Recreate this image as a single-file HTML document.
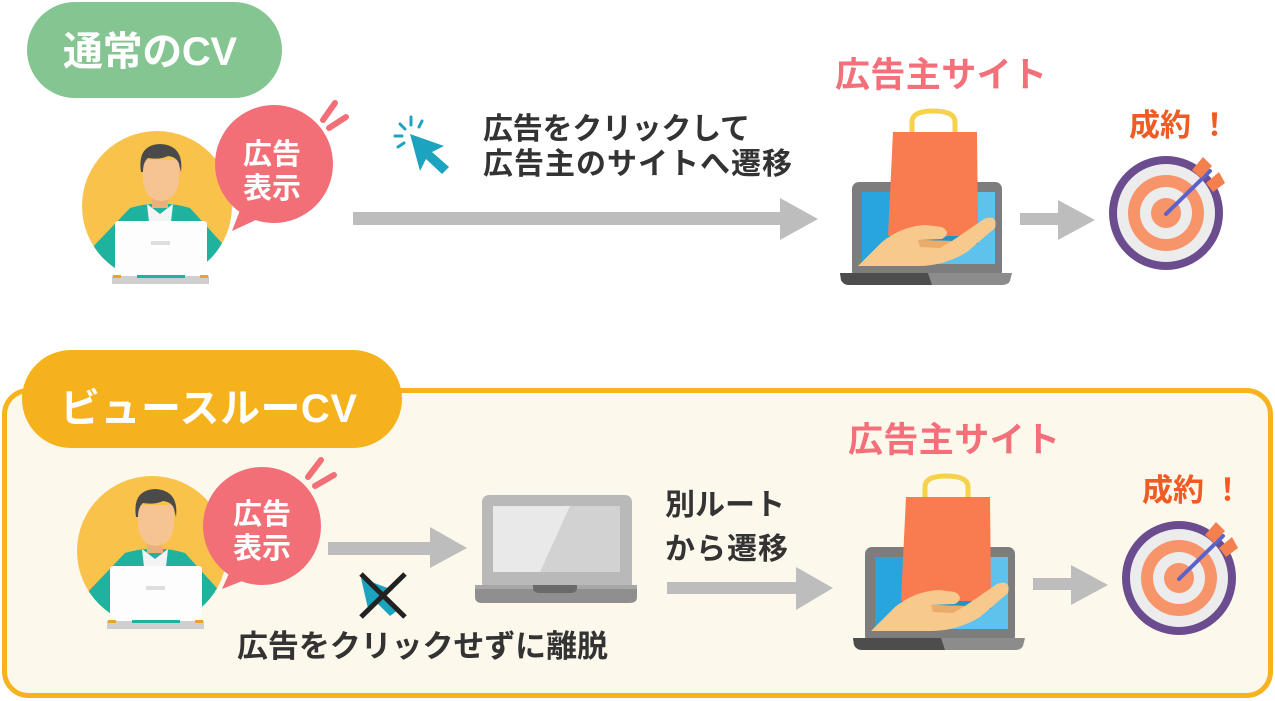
<!DOCTYPE html>
<html>
<head>
<meta charset="utf-8">
<style>
html,body{margin:0;padding:0;background:#fff;}
svg{display:block;}
text{font-family:"Liberation Sans","Noto Sans CJK JP",sans-serif;font-weight:bold;}
</style>
</head>
<body>
<svg width="1275" height="701" viewBox="0 0 1275 701" xmlns="http://www.w3.org/2000/svg">
<defs>
  <clipPath id="pc" clipPathUnits="userSpaceOnUse"><circle cx="157" cy="206" r="75"/></clipPath>
  <g id="person">
    <circle cx="157" cy="206" r="75" fill="#f8c24b"/>
    <g clip-path="url(#pc)">
      <path d="M130 208 Q160 199 190 208 L230 252 L224 295 L92 295 L88 252 Z" fill="#1fb39f"/>
    </g>
    <rect x="152" y="190" width="16" height="18" fill="#eab07c"/>
    <path d="M147 204 L160 214 L173 204 L171 222 L160 232 L149 222 Z" fill="#f4f4f4"/>
    <path d="M143 160 L143 180 Q145 200 161 201 Q177 200 179 180 L179 160 Z" fill="#f6c493"/>
    <path d="M141 172 Q137 145 160 144 Q184 145 181 172 L179 164 Q177 157 168 156 Q160 160 148 158 Q143 162 143 172 Z" fill="#4a4a4a"/>
    <rect x="115" y="221" width="92" height="56" rx="3" fill="#fdfdfd"/>
    <rect x="151" y="241" width="19" height="4" fill="#dedede"/>
    <rect x="112" y="276" width="97" height="8" fill="#cfcfcf"/>
    <rect x="137" y="275" width="48" height="3" fill="#1fb39f"/>
    <rect x="113" y="275" width="8" height="3" fill="#f0a030"/>
    <rect x="200" y="275" width="8" height="3" fill="#f0a030"/>
  </g>
  <g id="site">
    <!-- laptop -->
    <rect x="852" y="182" width="150" height="96" rx="7" fill="#7d7d7d"/>
    <rect x="862" y="192" width="133" height="72" fill="#28a5dd"/>
    <polygon points="962,192 995,192 995,264 935,264" fill="#5fc2ec"/>
    <path d="M840 273 L1012 273 L1010 281 Q1008 285 1002 285 L850 285 Q843 285 841 280 Z" fill="#8c8c8c"/>
    <path d="M840 273 L928 273 L932 285 L850 285 Q843 285 841 280 Z" fill="#4d4d4d"/>
    <!-- bag -->
    <path d="M912 142 L912 122 Q912 111 933 111 Q955 111 955 122 L955 142" fill="none" stroke="#f6d24c" stroke-width="5"/>
    <polygon points="893,132 977,132 978,236 888,236" fill="#f97b50"/>
    <polygon points="888,236 978,236 978,244 888,244" fill="#2592c4"/>
    <!-- hand -->
    <path d="M858 266 L882 242 Q902 226 926 225 L942 227 Q952 233 942 239 L918 240 L952 241 L984 219 Q998 214 995 228 L967 252 Q944 266 918 266 Z" fill="#f8c98c"/>
    <path d="M918 240 L952 241 L940 248 L920 247 Z" fill="#e9ac6a"/>
    <!-- small arrow -->
    <rect x="1020" y="213" width="40" height="12" fill="#bdbdbd"/>
    <polygon points="1058,200 1095,220 1058,240" fill="#bdbdbd"/>
    <!-- target -->
    <circle cx="1166" cy="213" r="57" fill="#6b4c8e"/>
    <circle cx="1166" cy="213" r="49" fill="#ececec"/>
    <circle cx="1166" cy="213" r="38" fill="#f7946a"/>
    <circle cx="1166" cy="213" r="26" fill="#ececec"/>
    <circle cx="1166" cy="213" r="15" fill="#f7946a"/>
    <line x1="1166" y1="214" x2="1210" y2="171" stroke="#5b62c9" stroke-width="4" stroke-linecap="round"/>
    <polygon points="1192,170 1203,157 1212,166 1201,178" fill="#f47f4f"/>
    <polygon points="1206,183 1219,172 1225,183 1213,192" fill="#f47f4f"/>
    <!-- labels -->
    <text x="835" y="87" font-size="35" fill="#f3707a" textLength="212" lengthAdjust="spacing">広告主サイト</text>
    <text x="1129" y="136" font-size="31" fill="#f05a23">成約</text>
    <text x="1199" y="136" font-size="31" fill="#f05a23">！</text>
  </g>
</defs>

<!-- top pill -->
<rect x="27" y="2" width="255" height="96" rx="48" fill="#85c592"/>
<text x="63" y="65" font-size="40" fill="#fff" textLength="174" lengthAdjust="spacing">通常のCV</text>

<!-- top person -->
<use href="#person"/>
<!-- top bubble -->
<path d="M242 205 L232 231 L260 218 Z" fill="#f36f78"/>
<circle cx="274" cy="164" r="59" fill="#f36f78"/>
<line x1="323" y1="120" x2="335" y2="103" stroke="#f36f78" stroke-width="6" stroke-linecap="round"/>
<line x1="329" y1="128" x2="346" y2="117" stroke="#f36f78" stroke-width="6" stroke-linecap="round"/>
<text x="243" y="164" font-size="29" fill="#fff">広告</text>
<text x="243" y="198" font-size="29" fill="#fff">表示</text>

<!-- cursor icon -->
<g fill="#1ba3bf" stroke="#1ba3bf" stroke-linecap="round">
  <polygon points="410,134 444,146 432,152 449,167 442,174 426,159 420,171" stroke="none"/>
  <line x1="400" y1="124" x2="405" y2="129" stroke-width="3"/>
  <line x1="411" y1="117" x2="411" y2="125" stroke-width="3"/>
  <line x1="395" y1="136" x2="402" y2="136" stroke-width="3"/>
  <line x1="422" y1="121" x2="419" y2="127" stroke-width="3"/>
  <line x1="398" y1="147" x2="404" y2="143" stroke-width="3"/>
</g>

<!-- top text -->
<text x="483" y="139" font-size="30" fill="#333" textLength="267" lengthAdjust="spacing">広告をクリックして</text>
<text x="483" y="174" font-size="30" fill="#333" textLength="309" lengthAdjust="spacing">広告主のサイトへ遷移</text>

<!-- top long arrow -->
<rect x="353" y="212" width="430" height="13" fill="#bdbdbd"/>
<polygon points="780,198 818,219 780,240" fill="#bdbdbd"/>

<!-- top site group -->
<use href="#site"/>

<!-- bottom box -->
<rect x="4.5" y="390.5" width="1266" height="305" rx="24" fill="#fdf8ec" stroke="#f6b31d" stroke-width="5"/>
<rect x="22" y="350" width="380" height="98" rx="49" fill="#f5b21c"/>
<text x="60" y="422" font-size="40" fill="#fff" textLength="297" lengthAdjust="spacing">ビュースルーCV</text>

<!-- bottom person -->
<use href="#person" transform="translate(-5,345)"/>
<path d="M232 567 L222 589 L250 578 Z" fill="#f36f78"/>
<circle cx="262" cy="526" r="59" fill="#f36f78"/>
<line x1="308" y1="477" x2="321" y2="460" stroke="#f36f78" stroke-width="6" stroke-linecap="round"/>
<line x1="315" y1="486" x2="334" y2="475" stroke="#f36f78" stroke-width="6" stroke-linecap="round"/>
<text x="233" y="524" font-size="29" fill="#fff">広告</text>
<text x="233" y="558" font-size="29" fill="#fff">表示</text>

<!-- arrow 1 -->
<rect x="328" y="542" width="104" height="13" fill="#bdbdbd"/>
<polygon points="430,527 467,548 430,568" fill="#bdbdbd"/>

<!-- X mark with cursor -->
<polygon points="361,578 393,590 382,596 398,610 390,616 375,601 369,613" fill="#1ba3bf"/>
<line x1="361" y1="574" x2="405" y2="617" stroke="#222" stroke-width="5"/>
<line x1="405" y1="574" x2="361" y2="617" stroke="#222" stroke-width="5"/>

<!-- gray laptop -->
<rect x="482" y="495" width="150" height="95" rx="7" fill="#b9b9b9"/>
<polygon points="580,495 625,495 Q632 495 632 502 632,590 538,590" fill="#a9a9a9"/>
<rect x="493" y="506" width="127" height="66" fill="#e9e9e9"/>
<polygon points="570,506 620,506 620,572 540,572" fill="#d2d2d2"/>
<path d="M475 585 L637 585 L637 597 Q637 603 630 603 L482 603 Q475 603 475 597 Z" fill="#8f8f8f"/>
<rect x="475" y="585" width="162" height="4" fill="#a7a7a7"/>
<path d="M533 585 L577 585 L577 588 Q577 593 570 593 L540 593 Q533 593 533 588 Z" fill="#6a6a6a"/>

<!-- middle text -->
<text x="665" y="515" font-size="30" fill="#333">別ルート</text>
<text x="665" y="559" font-size="30" fill="#333" textLength="123" lengthAdjust="spacing">から遷移</text>

<!-- arrow 2 -->
<rect x="667" y="582" width="131" height="12" fill="#bdbdbd"/>
<polygon points="796,567 833,588 796,610" fill="#bdbdbd"/>

<text x="237" y="657" font-size="31" fill="#333" textLength="371" lengthAdjust="spacing">広告をクリックせずに離脱</text>

<!-- bottom site group -->
<use href="#site" transform="translate(13,365)"/>
</svg>
</body>
</html>
